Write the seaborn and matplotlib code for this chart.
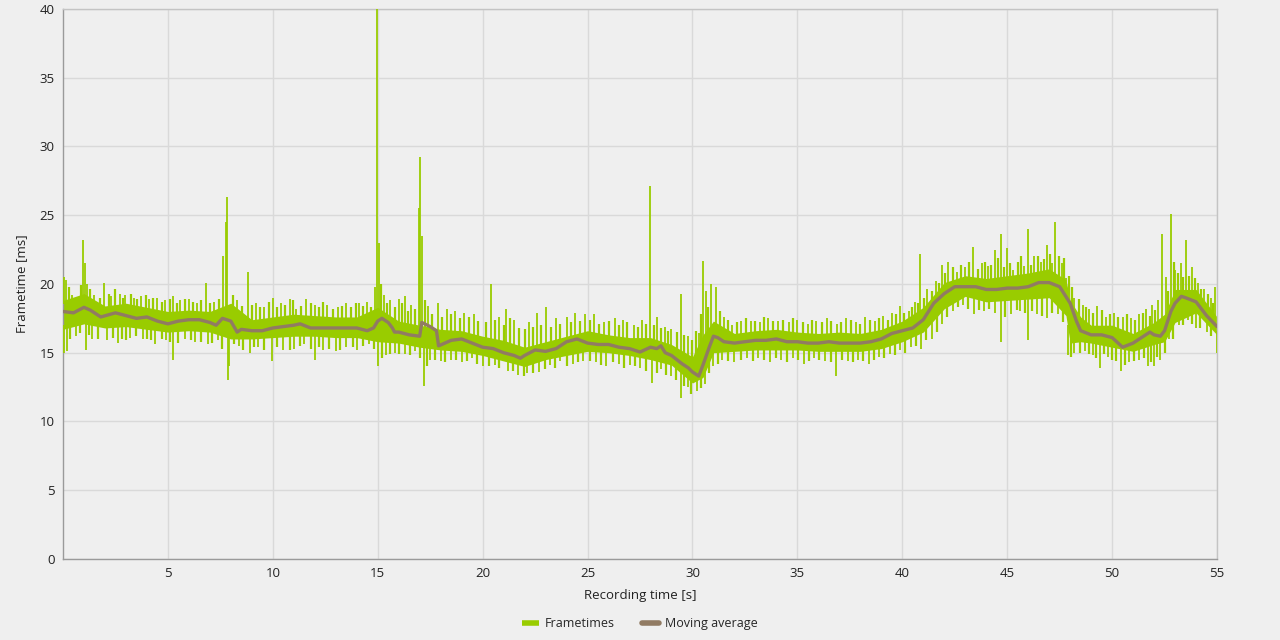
import numpy as np
import pandas as pd
import matplotlib.pyplot as plt
import seaborn as sns

# core band of the frametime trace (dense part), read per second
band_t = [0, 1, 2, 3, 4, 5, 6, 7, 8, 9, 10, 11, 12, 13, 14, 15, 16, 17, 18, 19,
          20, 21, 22, 23, 24, 25, 26, 27, 28, 29, 30, 30.5, 31, 32, 33, 34, 35,
          36, 37, 38, 39, 40, 41, 42, 43, 44, 45, 46, 47, 47.8, 48, 48.5, 49, 50,
          51, 52, 52.5, 53, 54, 55]
band_lo = [16.7, 17.1, 16.8, 16.9, 16.7, 16.5, 16.6, 16.5, 16.0, 16.0, 16.1, 16.2,
           16.2, 16.1, 16.1, 15.8, 15.7, 15.4, 15.2, 15.1, 14.8, 14.4, 14.0, 14.5,
           14.8, 15.1, 15.0, 14.8, 14.5, 14.1, 12.8, 13.2, 15.0, 15.1, 15.2, 15.2,
           15.2, 15.1, 15.1, 15.1, 15.3, 15.8, 16.5, 18.2, 19.1, 18.7, 18.8, 18.9,
           19.0, 17.7, 15.7, 15.8, 15.7, 15.4, 15.1, 15.6, 15.8, 17.2, 17.9, 16.3]
band_hi = [18.8, 19.3, 18.4, 18.6, 18.3, 18.0, 18.1, 18.0, 18.6, 17.4, 17.6, 17.8,
           17.7, 17.6, 17.6, 18.3, 17.3, 17.0, 16.7, 16.6, 16.2, 15.9, 15.4, 15.8,
           16.2, 16.6, 16.3, 16.1, 16.1, 15.6, 14.7, 16.3, 17.3, 16.4, 16.6, 16.7,
           16.5, 16.4, 16.5, 16.4, 16.7, 17.3, 18.3, 20.1, 20.6, 20.4, 20.6, 20.8,
           21.1, 20.3, 18.8, 17.6, 17.0, 17.0, 16.4, 17.2, 17.8, 19.6, 19.6, 17.6]

# single frames sticking out above the band
up_t = [0.05, 0.15, 0.45, 0.7, 0.95, 1.05, 1.15, 1.5, 1.95, 2.3, 2.7, 2.95, 3.4, 3.7,
        4.1, 4.5, 4.85, 5.25, 5.6, 6.0, 6.4, 6.8, 7.2, 7.65, 7.75, 7.8, 8.3, 8.8,
        9.2, 9.6, 10.0, 10.4, 10.8, 11.1, 11.6, 12.0, 12.6, 13.1, 13.5, 14.1, 14.5,
        14.85, 14.97, 15.05, 15.3, 15.6, 16.0, 16.3, 16.6, 16.95, 17.02, 17.1, 17.4,
        17.85, 18.3, 18.7, 19.1, 19.6, 20.4, 20.8, 21.1, 21.5, 22.2, 22.6, 23.0,
        23.5, 24.0, 24.4, 24.9, 25.3, 25.8, 26.3, 26.7, 27.2, 27.6, 27.96, 28.3,
        28.7, 29.0, 29.45, 29.8, 30.3, 30.5, 30.65, 30.9, 31.1, 31.5, 31.9, 32.3,
        32.8, 33.2, 33.6, 34.1, 34.6, 35.0, 35.5, 35.9, 36.4, 36.9, 37.3, 37.8,
        38.2, 38.7, 39.1, 39.5, 39.9, 40.3, 40.6, 40.85, 41.2, 41.6, 41.9, 42.2,
        42.6, 43.0, 43.35, 43.8, 44.1, 44.4, 44.7, 45.0, 45.3, 45.8, 46.0, 46.3,
        46.6, 46.9, 47.15, 47.3, 47.6, 47.8, 48.2, 48.6, 48.9, 49.3, 49.7, 50.1,
        50.5, 50.9, 51.3, 51.6, 51.9, 52.2, 52.4, 52.55, 52.8, 53.0, 53.3, 53.5,
        53.8, 54.1, 54.4, 54.7, 54.9]
up_ms = [20.5, 20.3, 19.2, 19.0, 23.2, 21.5, 20.0, 19.2, 20.1, 19.1, 19.3, 19.2, 19.0,
         19.1, 18.9, 19.0, 18.8, 19.1, 18.8, 18.9, 18.6, 20.1, 18.7, 22.0, 24.5, 26.3,
         18.8, 20.9, 18.6, 18.3, 19.0, 18.6, 18.9, 18.2, 18.9, 18.5, 18.5, 18.3, 18.6,
         18.6, 18.7, 19.8, 40.0, 23.0, 19.2, 18.8, 18.9, 19.1, 18.5, 25.5, 29.2, 23.5,
         18.4, 18.6, 18.2, 18.0, 17.9, 17.8, 20.0, 17.6, 18.2, 17.4, 17.2, 17.9, 18.3,
         17.5, 17.6, 17.9, 17.8, 17.8, 17.2, 17.5, 17.4, 17.0, 17.4, 27.1, 17.6, 16.9,
         16.7, 19.3, 16.2, 16.4, 21.7, 19.5, 20.0, 19.8, 17.6, 17.0, 17.3, 17.3, 17.2,
         17.5, 17.3, 17.2, 17.4, 17.1, 17.3, 17.5, 17.1, 17.5, 17.2, 17.6, 17.3, 17.7,
         17.9, 18.4, 18.0, 18.7, 22.2, 19.6, 20.2, 21.4, 21.6, 20.9, 21.2, 22.7, 21.5,
         21.3, 22.5, 23.6, 22.6, 21.0, 21.3, 24.0, 22.0, 21.6, 22.8, 21.5, 24.5, 21.5,
         20.4, 19.0, 18.5, 18.2, 18.4, 17.6, 17.9, 17.6, 17.5, 17.8, 18.2, 18.5, 18.8,
         23.6, 20.5, 25.1, 21.0, 21.5, 23.2, 21.2, 20.1, 19.6, 19.0, 19.8]

# smaller frames just above the band
mid_up_t = [0.3, 0.85, 1.3, 1.75, 2.2, 2.5, 2.85, 3.25, 3.55, 3.95, 4.3, 4.7, 5.1, 5.45,
            5.8, 6.2, 6.6, 7.0, 7.45, 8.1, 8.55, 9.0, 9.4, 9.8, 10.2, 10.6, 10.95,
            11.35, 11.8, 12.2, 12.4, 12.85, 13.3, 13.75, 13.95, 14.3, 14.7, 15.15,
            15.45, 15.8, 16.15, 16.45, 16.8, 17.25, 17.6, 18.05, 18.5, 18.9, 19.35,
            19.8, 20.15, 20.6, 21.0, 21.3, 21.75, 22.0, 22.4, 22.8, 23.25, 23.7, 24.2,
            24.65, 25.1, 25.55, 26.0, 26.5, 26.9, 27.4, 27.8, 28.15, 28.5, 28.85,
            29.25, 29.6, 30.0, 30.15, 30.4, 30.75, 31.3, 31.7, 32.1, 32.55, 33.0, 33.4,
            33.85, 34.3, 34.8, 35.25, 35.7, 36.15, 36.6, 37.1, 37.55, 38.0, 38.45,
            38.9, 39.3, 39.7, 40.1, 40.45, 40.75, 41.05, 41.4, 41.75, 42.05, 42.4,
            42.8, 43.2, 43.6, 43.95, 44.25, 44.55, 44.85, 45.15, 45.5, 45.65, 46.15,
            46.45, 46.75, 47.05, 47.45, 47.7, 47.95, 48.1, 48.4, 48.75, 49.1, 49.5,
            49.9, 50.3, 50.7, 51.1, 51.45, 51.8, 52.05, 52.65, 52.95, 53.15, 53.4,
            53.65, 53.95, 54.25, 54.55, 54.8]
mid_up_ms = [19.8, 19.9, 19.6, 19.0, 19.3, 19.6, 19.0, 19.3, 18.9, 19.2, 19.0, 18.7,
             18.9, 18.6, 18.9, 18.7, 18.8, 18.6, 18.9, 19.2, 18.4, 18.5, 18.3, 18.7,
             18.3, 18.5, 18.8, 18.4, 18.6, 18.3, 18.7, 18.2, 18.4, 18.3, 18.6, 18.4,
             18.3, 20.0, 18.6, 18.3, 18.6, 18.0, 18.2, 18.8, 17.8, 17.6, 17.8, 17.5,
             17.6, 17.3, 17.2, 17.4, 17.0, 17.5, 16.8, 16.7, 16.9, 17.0, 16.9, 17.1,
             17.2, 17.3, 17.4, 17.1, 17.3, 17.0, 17.2, 16.9, 17.1, 17.0, 16.8, 16.6,
             16.5, 16.3, 15.9, 16.6, 17.8, 18.3, 18.0, 17.4, 17.2, 17.5, 17.3, 17.6,
             17.3, 17.4, 17.5, 17.2, 17.4, 17.2, 17.3, 17.2, 17.4, 17.1, 17.4, 17.5,
             17.4, 17.8, 17.9, 18.3, 18.6, 19.0, 19.5, 20.1, 20.8, 21.2, 21.4, 21.6,
             21.1, 21.6, 21.4, 21.9, 21.2, 21.5, 21.6, 22.0, 21.4, 22.0, 21.8, 22.2,
             22.0, 21.9, 20.6, 19.8, 18.9, 18.3, 17.9, 18.1, 17.8, 17.6, 17.8, 17.4,
             17.9, 17.7, 18.1, 19.5, 21.6, 20.8, 20.5, 20.6, 20.4, 19.6, 19.3, 18.6]

# single frames dropping below the band
down_t = [0.05, 0.2, 0.6, 1.1, 1.4, 2.1, 2.6, 3.2, 3.8, 4.4, 4.9, 5.25, 5.8, 6.3, 6.9,
          7.4, 7.85, 7.9, 8.4, 8.9, 9.3, 9.95, 10.5, 11.0, 11.5, 12.0, 12.4, 13.0,
          13.5, 14.0, 14.6, 15.0, 15.4, 15.8, 16.3, 16.8, 17.2, 17.5, 18.0, 18.5,
          19.0, 19.5, 20.0, 20.6, 21.2, 21.7, 22.1, 22.7, 23.2, 23.7, 24.3, 24.8,
          25.4, 25.9, 26.5, 27.0, 27.5, 28.05, 28.5, 29.0, 29.45, 29.8, 30.2, 30.6,
          31.0, 31.4, 32.0, 32.6, 33.1, 33.7, 34.2, 34.8, 35.3, 35.8, 36.3, 36.85,
          37.4, 37.9, 38.4, 38.9, 39.4, 39.9, 40.4, 40.9, 41.4, 41.9, 42.4, 42.9,
          43.4, 43.9, 44.4, 44.7, 45.2, 45.6, 46.0, 46.4, 46.9, 47.4, 47.9, 48.2,
          48.7, 49.1, 49.4, 49.8, 50.4, 50.8, 51.3, 51.7, 52.0, 52.3, 52.7, 53.2,
          53.6, 54.0, 54.5, 55.0]
down_ms = [15.0, 15.1, 16.2, 15.2, 16.0, 15.9, 15.7, 16.1, 16.0, 15.6, 15.9, 14.5, 16.0,
           15.8, 15.6, 15.9, 13.0, 14.0, 15.5, 15.0, 15.4, 14.4, 15.2, 15.3, 15.6, 14.5,
           15.2, 15.1, 15.4, 15.2, 15.6, 14.0, 14.8, 15.0, 14.9, 15.1, 12.6, 14.5, 14.4,
           14.5, 14.3, 14.6, 14.0, 14.1, 13.7, 13.4, 13.5, 13.6, 14.1, 14.4, 14.2, 14.4,
           14.3, 14.0, 14.2, 14.1, 13.9, 12.8, 13.8, 13.3, 11.7, 12.5, 12.2, 12.7, 14.0,
           14.5, 14.3, 14.6, 14.6, 14.3, 14.5, 14.6, 14.2, 14.6, 14.4, 13.3, 14.4, 14.5,
           14.2, 14.7, 14.9, 15.2, 15.4, 15.3, 16.0, 17.1, 18.0, 18.5, 17.8, 18.0, 17.9,
           15.8, 17.8, 18.0, 15.9, 17.8, 17.5, 17.8, 14.8, 15.0, 15.1, 14.8, 13.9, 14.7,
           13.7, 14.3, 14.5, 14.0, 14.0, 14.5, 16.0, 17.0, 17.4, 16.8, 16.5, 15.0]

# smaller frames just below the band
mid_down_t = [0.35, 0.8, 1.25, 1.65, 2.4, 2.8, 3.0, 3.5, 4.0, 4.2, 4.7, 5.1, 5.5, 6.1,
              6.6, 7.1, 7.6, 8.15, 8.6, 9.1, 9.6, 10.2, 10.8, 11.3, 11.8, 12.2, 12.7,
              13.2, 13.8, 14.3, 14.8, 15.2, 15.6, 16.0, 16.55, 17.0, 17.35, 17.75,
              18.2, 18.75, 19.25, 19.75, 20.3, 20.8, 21.45, 21.95, 22.4, 22.95, 23.45,
              24.0, 24.55, 25.1, 25.65, 26.2, 26.75, 27.25, 27.8, 28.3, 28.75, 29.2,
              29.6, 29.95, 30.4, 30.8, 31.2, 31.7, 32.3, 32.9, 33.4, 34.0, 34.5, 35.05,
              35.55, 36.05, 36.6, 37.15, 37.65, 38.15, 38.65, 39.15, 39.65, 40.15,
              40.65, 41.15, 41.65, 42.15, 42.65, 43.15, 43.65, 44.15, 44.9, 45.45,
              45.85, 46.2, 46.65, 47.15, 47.65, 48.05, 48.45, 48.9, 49.25, 49.6, 50.0,
              50.2, 50.6, 51.05, 51.5, 51.85, 52.15, 52.5, 52.9, 53.4, 53.8, 54.2, 54.7]
mid_down_ms = [16.0, 16.4, 16.3, 16.0, 16.1, 16.0, 15.9, 16.2, 16.0, 15.9, 16.0, 15.8,
               15.7, 15.9, 15.8, 15.7, 15.3, 15.6, 15.2, 15.4, 15.2, 15.4, 15.2, 15.5,
               15.3, 15.4, 15.3, 15.2, 15.4, 15.5, 15.3, 14.6, 14.9, 14.9, 14.8, 14.6,
               14.0, 14.5, 14.3, 14.5, 14.4, 14.2, 14.0, 13.9, 13.7, 13.3, 13.5, 13.8,
               13.9, 14.0, 14.3, 14.4, 14.1, 14.3, 13.9, 14.0, 13.7, 13.5, 13.4, 13.0,
               12.6, 12.0, 12.4, 13.5, 14.2, 14.4, 14.5, 14.4, 14.5, 14.6, 14.3, 14.5,
               14.4, 14.5, 14.3, 14.5, 14.3, 14.4, 14.5, 14.6, 14.8, 15.0, 15.5, 15.9,
               16.5, 17.6, 18.3, 18.2, 18.1, 18.2, 17.6, 18.1, 17.9, 18.0, 17.7, 17.9,
               17.2, 14.7, 15.0, 14.9, 14.6, 14.9, 14.5, 14.4, 14.1, 14.4, 14.6, 14.3,
               14.7, 15.0, 16.0, 17.0, 17.1, 16.8, 16.2]

# moving average
ma_t = [0, 0.5, 1, 1.3, 1.8, 2.5, 3, 3.5, 4, 4.5, 5, 5.5, 6, 6.5, 7, 7.3, 7.6, 8,
        8.3, 8.5, 9, 9.5, 10, 10.5, 11, 11.3, 11.8, 12.5, 13, 13.5, 14, 14.5, 14.8,
        15, 15.2, 15.5, 15.7, 15.8, 16, 16.5, 17, 17.1, 17.5, 17.8, 17.9, 18.5, 19,
        19.5, 20, 20.5, 21, 21.5, 21.8, 22, 22.5, 23, 23.5, 24, 24.5, 25, 25.5, 26,
        26.5, 27, 27.5, 28, 28.3, 28.5, 28.7, 29, 29.5, 29.8, 30, 30.3, 30.5, 30.8,
        31, 31.2, 31.5, 32, 32.5, 33, 33.5, 34, 34.5, 35, 35.5, 36, 36.5, 37, 37.5,
        38, 38.5, 39, 39.5, 40, 40.5, 41, 41.5, 42, 42.5, 43, 43.5, 44, 44.5, 45,
        45.5, 46, 46.5, 47, 47.5, 48, 48.3, 48.5, 49, 49.5, 50, 50.5, 51, 51.5, 51.8,
        52, 52.3, 52.5, 52.8, 53, 53.3, 53.5, 54, 54.5, 55]
ma_ms = [18.0, 17.9, 18.3, 18.1, 17.6, 17.9, 17.7, 17.5, 17.6, 17.3, 17.1, 17.3, 17.4,
         17.4, 17.2, 17.0, 17.5, 17.3, 16.5, 16.7, 16.6, 16.6, 16.8, 16.9, 17.0, 17.1,
         16.8, 16.8, 16.8, 16.8, 16.8, 16.6, 16.8, 17.3, 17.5, 17.2, 16.8, 16.5, 16.5,
         16.3, 16.2, 17.2, 16.9, 16.6, 15.5, 15.9, 16.0, 15.7, 15.4, 15.3, 15.0, 14.8,
         14.6, 14.8, 15.2, 15.1, 15.3, 15.8, 16.0, 15.7, 15.6, 15.6, 15.4, 15.3, 15.05,
         15.4, 15.3, 15.5, 15.0, 14.8, 14.2, 13.9, 13.6, 13.3, 14.1, 15.4, 16.2, 16.1,
         15.8, 15.7, 15.8, 15.9, 15.9, 16.0, 15.8, 15.8, 15.7, 15.7, 15.8, 15.7, 15.7,
         15.7, 15.8, 16.0, 16.4, 16.6, 16.8, 17.4, 18.6, 19.3, 19.8, 19.8, 19.8, 19.6,
         19.6, 19.7, 19.7, 19.8, 20.1, 20.1, 19.8, 18.6, 17.3, 16.6, 16.3, 16.3, 16.1,
         15.4, 15.7, 16.2, 16.5, 16.3, 16.2, 16.6, 18.0, 18.6, 19.1, 19.0, 18.7, 17.7,
         16.9]

GREEN = "#99cc00"
BROWN = "#917b63"
BG = "#efefef"

sns.set_theme(style="whitegrid")
plt.rcParams["font.family"] = ["Open Sans", "DejaVu Sans"]

fig = plt.figure(figsize=(12.8, 6.4), dpi=100, facecolor=BG)
ax = fig.add_axes([0.0492, 0.1266, 0.9016, 0.8594])
ax.set_facecolor(BG)

ax.fill_between(band_t, band_lo, band_hi, color=GREEN, linewidth=0, zorder=2)

up_base = np.interp(up_t, band_t, band_hi) - 0.3
down_base = np.interp(down_t, band_t, band_lo) + 0.3
mid_up_base = np.interp(mid_up_t, band_t, band_hi) - 0.3
mid_down_base = np.interp(mid_down_t, band_t, band_lo) + 0.3
ax.vlines(up_t, up_base, up_ms, color=GREEN, linewidth=1.3, zorder=3, label="Frametimes")
ax.vlines(down_t, down_ms, down_base, color=GREEN, linewidth=1.3, zorder=3)
ax.vlines(mid_up_t, mid_up_base, mid_up_ms, color=GREEN, linewidth=1.6, zorder=3)
ax.vlines(mid_down_t, mid_down_ms, mid_down_base, color=GREEN, linewidth=1.6, zorder=3)

ma = pd.DataFrame({"t": ma_t, "ms": ma_ms})
sns.lineplot(data=ma, x="t", y="ms", ax=ax, color=BROWN, linewidth=2.4,
             zorder=4, label="Moving average")

ax.set_xlim(0, 55)
ax.set_ylim(0, 40)
ax.set_xticks(np.arange(5, 56, 5))
ax.set_yticks(np.arange(0, 41, 5))
ax.grid(True, color="#d9d9d9", linewidth=1)
ax.tick_params(length=0, labelsize=9.5, colors="#222222", pad=6)
for side in ["top", "right"]:
    ax.spines[side].set_color("#c4c4c4")
for side in ["left", "bottom"]:
    ax.spines[side].set_color("#9a9a9a")
for s in ax.spines.values():
    s.set_linewidth(1)

ax.set_xlabel("Recording time [s]", fontsize=9.5, color="#222222", labelpad=6)
ax.set_ylabel("Frametime [ms]", fontsize=9.5, color="#222222", labelpad=8)

leg = ax.legend(loc="upper center", bbox_to_anchor=(0.5, -0.085), ncol=2, frameon=False,
                fontsize=9, handlelength=1.3, handletextpad=0.5, columnspacing=2.2)
for h in leg.legend_handles:
    h.set_linewidth(4)

fig.savefig("out.png", dpi=100, facecolor=BG)
